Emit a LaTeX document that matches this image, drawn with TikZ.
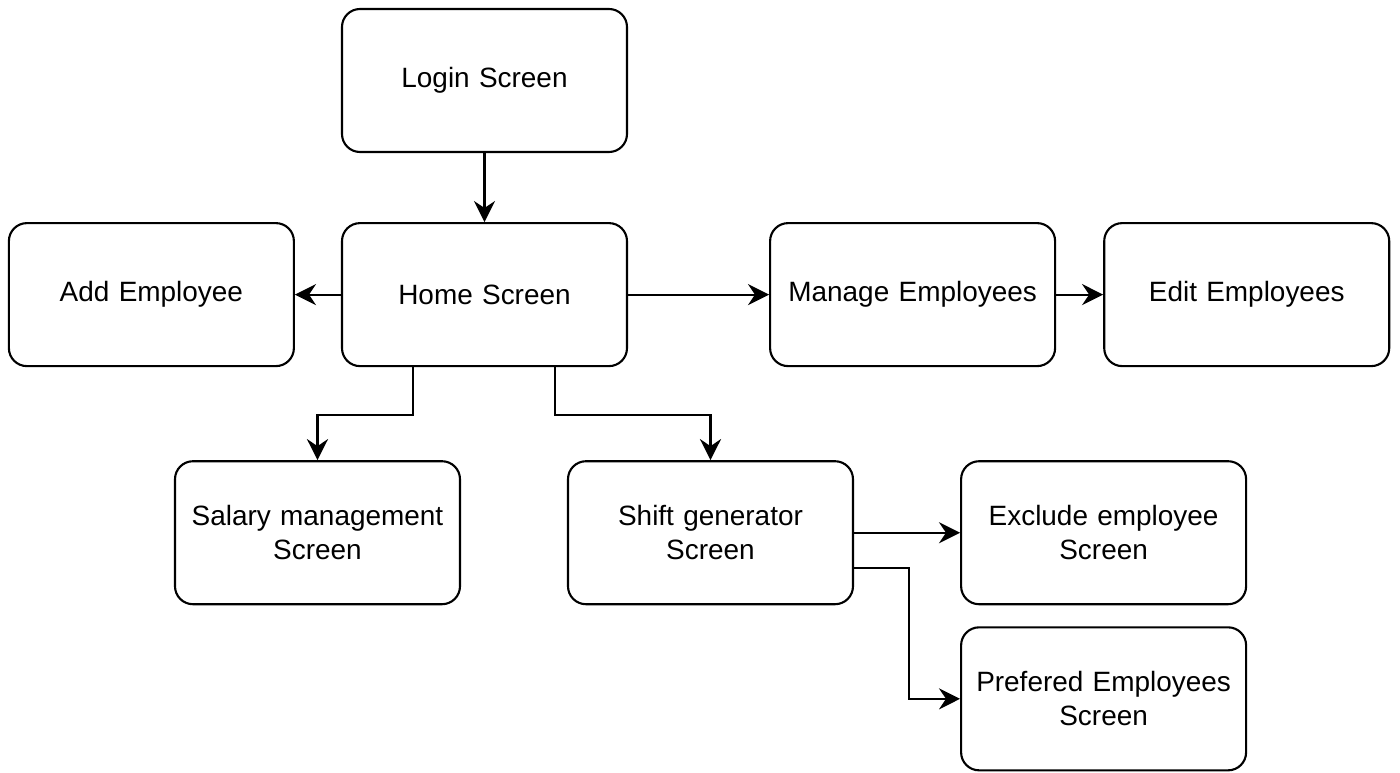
\documentclass[tikz,border=0pt]{standalone}
\usepackage{fontspec}
\setmainfont{Liberation Sans}
\usepackage{xcolor}
\usetikzlibrary{positioning, arrows.meta}

\tikzset{
  screen/.style={draw, line width=1.2pt, rounded corners=0.36cm, minimum width=5.7cm,
                 minimum height=2.86cm, align=center, text width=5.4cm,
                 font=\fontsize{15.9}{19.5}\selectfont},
  flow/.style={line width=1.2pt, -{Stealth[length=12pt, width=12pt, inset=4pt]}}
}

\begin{document}
\begin{tikzpicture}[node distance=1.38cm and 0.92cm]
  \useasboundingbox (-9.69,1.61) rectangle (18.31,-13.83);

  % top row
  \node[screen] (login) at (0,0) {Login Screen};
  \node[screen, below=of login] (home) {Home Screen};
  \node[screen, left=of home] (addemp) {Add Employee};
  \node[screen, right=2.82cm of home] (manage) {Manage Employees};
  \node[screen, right=0.94cm of manage] (editemp) {Edit Employees};

  % second row
  \node[screen, below=1.86cm of home, xshift=-3.34cm] (salary)
    {Salary management\\ Screen};
  \node[screen, below=1.86cm of home, xshift=4.52cm] (shiftgen)
    {Shift generator\\ Screen};
  \node[screen, right=2.12cm of shiftgen] (exclude)
    {Exclude employee\\ Screen};
  \node[screen, below=0.42cm of exclude] (prefered)
    {Prefered Employees\\ Screen};

  % connectors
  \draw[flow] (login) -- (home);
  \draw[flow] (home) -- (addemp);
  \draw[flow] (home) -- (manage);
  \draw[flow] (manage) -- (editemp);
  \draw[flow] ([xshift=-1.43cm]home.south) -- ++(0,-0.95) -| (salary.north);
  \draw[flow] ([xshift=1.41cm]home.south) -- ++(0,-0.95) -| (shiftgen.north);
  \draw[flow] (shiftgen) -- (exclude);
  \draw[flow] ([yshift=-0.71cm]shiftgen.east) -- ++(1.1,0) |- (prefered.west);
\end{tikzpicture}
\end{document}
